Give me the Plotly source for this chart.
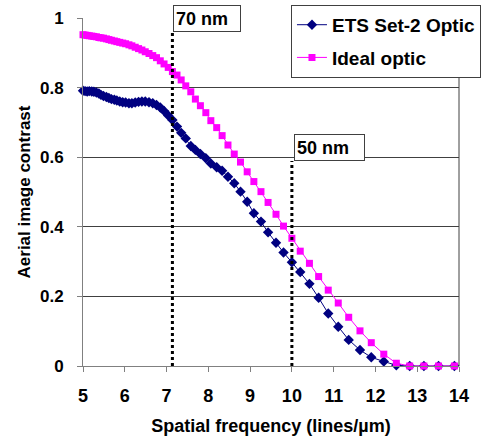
import plotly.graph_objects as go

# Spatial frequency (lines/um)
freq = [5.00, 5.05, 5.10, 5.15, 5.21, 5.26, 5.32, 5.38, 5.43, 5.49,
        5.56, 5.62, 5.68, 5.75, 5.81, 5.88, 5.95, 6.02, 6.10, 6.17,
        6.25, 6.33, 6.41, 6.49, 6.58, 6.67, 6.76, 6.85, 6.94, 7.04,
        7.14, 7.25, 7.35, 7.46, 7.58, 7.69, 7.81, 7.94, 8.06, 8.20,
        8.33, 8.47, 8.62, 8.77, 8.93, 9.09, 9.26, 9.43, 9.62, 9.80,
        10.00, 10.20, 10.42, 10.64, 10.87, 11.11, 11.36, 11.63, 11.90, 12.20,
        12.50, 12.82, 13.16, 13.51, 13.89]

ets = [0.791, 0.790, 0.789, 0.790, 0.789, 0.788, 0.786, 0.783, 0.779, 0.776,
       0.773, 0.770, 0.767, 0.765, 0.763, 0.760, 0.758, 0.757, 0.755, 0.755,
       0.757, 0.759, 0.760, 0.760, 0.758, 0.755, 0.750, 0.743, 0.733, 0.720,
       0.707, 0.688, 0.670, 0.654, 0.632, 0.621, 0.609, 0.597, 0.582, 0.571,
       0.561, 0.544, 0.525, 0.501, 0.472, 0.439, 0.415, 0.384, 0.354, 0.326,
       0.298, 0.270, 0.236, 0.196, 0.151, 0.113, 0.075, 0.046, 0.025, 0.013,
       0.002, 0.000, 0.000, 0.000, 0.000]

ideal = [0.952, 0.951, 0.950, 0.949, 0.948, 0.947, 0.946, 0.944, 0.943, 0.942,
         0.940, 0.938, 0.936, 0.934, 0.932, 0.930, 0.928, 0.926, 0.923, 0.920,
         0.916, 0.912, 0.908, 0.903, 0.898, 0.892, 0.886, 0.877, 0.868, 0.858,
         0.846, 0.836, 0.822, 0.805, 0.788, 0.767, 0.748, 0.728, 0.705, 0.685,
         0.662, 0.635, 0.609, 0.586, 0.558, 0.530, 0.501, 0.470, 0.436, 0.402,
         0.367, 0.330, 0.295, 0.257, 0.218, 0.181, 0.140, 0.101, 0.067, 0.034,
         0.008, 0.000, 0.000, 0.000, 0.000]

series_names = ["ETS Set-2 Optic", "Ideal optic"]
marker_lines = [7.14, 10.0]
marker_labels = ["70 nm", "50 nm"]

FONT = "Liberation Sans, Arial, sans-serif"

fig = go.Figure()
fig.add_trace(go.Scatter(
    x=freq, y=ets, name=series_names[0], mode="lines+markers",
    line=dict(color="#000080", width=1),
    marker=dict(symbol="diamond", size=8, color="#000080"),
    cliponaxis=False, legendgroup="a"))
fig.add_trace(go.Scatter(
    x=freq, y=ideal, name=series_names[1], mode="lines+markers",
    line=dict(color="#FF00FF", width=1),
    marker=dict(symbol="square", size=7, color="#FF00FF"),
    cliponaxis=False, legendgroup="b"))

tops = [0.96, 0.589]
shifts = [1, 2]
widths = [62, 65]
for xv, lab, top, sh, w in zip(marker_lines, marker_labels, tops, shifts, widths):
    fig.add_shape(type="line", xref="x", yref="y", x0=xv, x1=xv, y0=0, y1=top,
                  line=dict(color="black", width=3, dash="dot"))
    fig.add_annotation(x=xv, y=top, xref="x", yref="y", text=lab, showarrow=False,
                       xanchor="left", yanchor="bottom", align="left", width=w,
                       height=21, xshift=sh, bgcolor="white", bordercolor="#404040",
                       borderwidth=1, borderpad=2,
                       font=dict(family=FONT, size=18, color="black", weight="bold"))

# right border
fig.add_shape(type="line", xref="paper", yref="paper", x0=1, x1=1, y0=0, y1=1,
              line=dict(color="#404040", width=1))

fig.update_layout(
    width=487, height=442,
    margin=dict(l=83, r=28, t=18, b=76, autoexpand=False),
    paper_bgcolor="white", plot_bgcolor="white",
    font=dict(family=FONT, color="black", weight="bold"),
    showlegend=True,
    legend=dict(x=0.5975, y=0.989, xref="container", yref="container",
                xanchor="left", yanchor="top",
                bgcolor="white", bordercolor="#404040", borderwidth=1,
                font=dict(family=FONT, size=19, color="black", weight="bold"),
                tracegroupgap=5, itemwidth=30),
    xaxis=dict(range=[5, 14], dtick=1, tick0=5, showgrid=False, zeroline=False,
               automargin=False,
               showline=True, linecolor="#808080", linewidth=1,
               ticks="outside", ticklen=5, tickcolor="#808080",
               tickfont=dict(family=FONT, size=18, color="black", weight="bold"),
               ticklabelstandoff=8,
               title=dict(text="Spatial frequency (lines/\u00b5m)", standoff=14,
                          font=dict(family=FONT, size=18, color="black", weight="bold"))),
    yaxis=dict(range=[0, 1], dtick=0.2, tick0=0, showgrid=True, gridcolor="#404040",
               gridwidth=1, zeroline=False, automargin=False,
               showline=True, linecolor="#808080", linewidth=1,
               ticks="outside", ticklen=5, tickcolor="#808080",
               tickfont=dict(family=FONT, size=17, color="black", weight="bold"),
               ticklabelstandoff=10,
               title=dict(text="Aerial image contrast", standoff=5,
                          font=dict(family=FONT, size=17, color="black", weight="bold"))),
)

fig.write_html("out.html", config={"displayModeBar": False},
               post_script="document.body.style.margin='0px';")
